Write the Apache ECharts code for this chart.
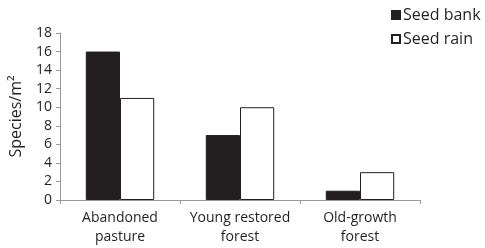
<!DOCTYPE html>
<html lang="en">
<head>
  <meta charset="UTF-8">
  <title>Seed bank vs seed rain</title>
  <script src="https://cdn.jsdelivr.net/npm/echarts@6/dist/echarts.min.js"></script>
  <style>
    html, body { margin: 0; padding: 0; background: #ffffff; }
    #chart { width: 485px; height: 248px; }
  </style>
</head>
<body>
  <div id="chart"></div>
  <script>
    // data
    var categories = ['Abandoned\npasture', 'Young restored\nforest', 'Old-growth\nforest'];
    var seedBank = [16, 7, 1];
    var seedRain = [11, 10, 3];
    var yTicks = [0, 2, 4, 6, 8, 10, 12, 14, 16, 18];

    var font = '"Open Sans", sans-serif';
    var chart = echarts.init(document.getElementById('chart'));

    var option = {
      animation: false,
      textStyle: { fontFamily: font, color: '#231f20' },
      legend: {
        orient: 'vertical',
        left: 391,
        top: 7,
        padding: 0,
        itemWidth: 8,
        itemHeight: 8,
        itemGap: 8,
        icon: 'rect',
        textStyle: { fontSize: 16, lineHeight: 16, color: '#231f20', padding: [0, 0, 0, -2] },
        data: ['Seed bank', 'Seed rain']
      },
      grid: { left: 60, right: 65, top: 33, bottom: 48 },
      xAxis: {
        type: 'category',
        data: categories,
        axisLine: { lineStyle: { color: '#999999' } },
        axisTick: { show: true, length: 4, lineStyle: { color: '#999999' } },
        axisLabel: { interval: 0, fontSize: 14, color: '#231f20', lineHeight: 19, margin: 9 }
      },
      yAxis: {
        type: 'value',
        min: yTicks[0],
        max: yTicks[yTicks.length - 1],
        interval: 2,
        name: 'Species/m²',
        nameLocation: 'center',
        nameGap: 36,
        nameTextStyle: { fontSize: 16, color: '#231f20' },
        axisLine: { show: true, lineStyle: { color: '#999999' } },
        axisTick: { show: true, length: 4, lineStyle: { color: '#999999' } },
        axisLabel: { fontSize: 14, color: '#231f20', margin: 8 },
        splitLine: { show: false }
      },
      series: [
        {
          name: 'Seed bank',
          type: 'bar',
          data: seedBank,
          barCategoryGap: '43%',
          barGap: '0%',
          itemStyle: { color: '#231f20', borderColor: '#231f20', borderWidth: 1 }
        },
        {
          name: 'Seed rain',
          type: 'bar',
          data: seedRain,
          itemStyle: { color: '#ffffff', borderColor: '#231f20', borderWidth: 1 }
        }
      ]
    };

    chart.setOption(option);
  </script>
</body>
</html>
